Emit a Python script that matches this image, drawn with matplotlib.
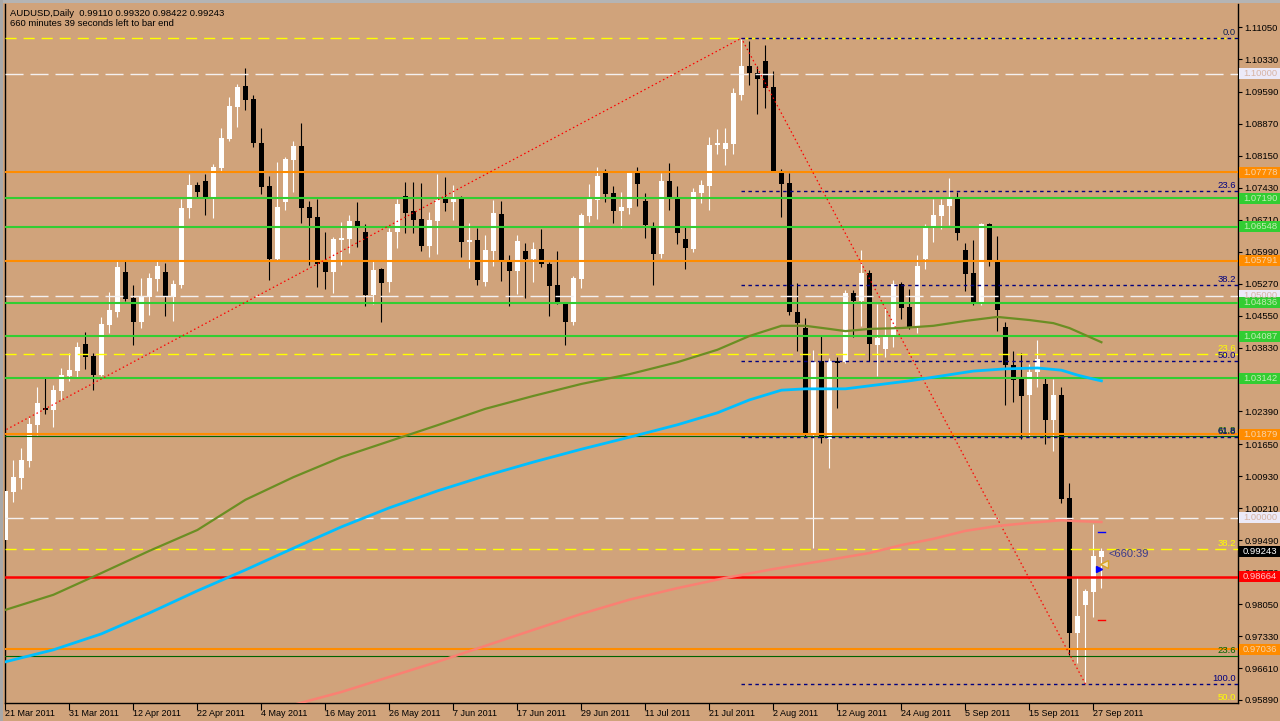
# AUDUSD daily chart, MT4 style, rebuilt with matplotlib
import numpy as np
import pandas as pd
import matplotlib
matplotlib.use("Agg")
import matplotlib.pyplot as plt
import matplotlib.transforms as mtransforms
from matplotlib.patches import Rectangle

plt.rcParams['font.family'] = ['Liberation Sans', 'DejaVu Sans']

BG = '#D0A37B'

# daily bars, 21 Mar 2011 -> 28 Sep 2011 (weekdays)
dates = pd.bdate_range('2011-03-21', '2011-09-28')

opens = [0.9949, 1.0058, 1.0089, 1.0127, 1.0208, 1.0247, 1.0242, 1.0285, 1.0319, 1.0330,
         1.0391, 1.0364, 1.0321, 1.0434, 1.0463, 1.0553, 1.0495, 1.0441, 1.0497, 1.0537,
         1.0553, 1.0497, 1.0524, 1.0697, 1.0749, 1.0758, 1.0722, 1.0787, 1.0853, 1.0925,
         1.0972, 1.0943, 1.0844, 1.0747, 1.0583, 1.0711, 1.0806, 1.0837, 1.0700, 1.0677,
         1.0576, 1.0553, 1.0625, 1.0627, 1.0668, 1.0643, 1.0501, 1.0560, 1.0531, 1.0643,
         1.0724, 1.0691, 1.0673, 1.0612, 1.0668, 1.0718, 1.0711, 1.0720, 1.0621, 1.0625,
         1.0531, 1.0601, 1.0684, 1.0578, 1.0555, 1.0601, 1.0583, 1.0605, 1.0571, 1.0524,
         1.0481, 1.0441, 1.0537, 1.0680, 1.0715, 1.0776, 1.0731, 1.0691, 1.0697, 1.0776,
         1.0713, 1.0655, 1.0594, 1.0758, 1.0722, 1.0627, 1.0605, 1.0731, 1.0747, 1.0839,
         1.0830, 1.0842, 1.0952, 1.1017, 1.1002, 1.1029, 1.0970, 1.0776, 1.0754, 1.0463,
         1.0427, 1.0186, 1.0353, 1.0177, 1.0353, 1.0350, 1.0506, 1.0488, 1.0551, 1.0389,
         1.0380, 1.0407, 1.0526, 1.0474, 1.0429, 1.0583, 1.0652, 1.0680, 1.0702, 1.0720,
         1.0603, 1.0551, 1.0481, 1.0661, 1.0576, 1.0429, 1.0344, 1.0312, 1.0276, 1.0328,
         1.0301, 1.0220, 1.0276, 1.0044, 0.9740, 0.9803, 0.9832, 0.99110]
highs = [1.0069, 1.0130, 1.0157, 1.0227, 1.0294, 1.0314, 1.0299, 1.0337, 1.0371, 1.0395,
         1.0418, 1.0371, 1.0452, 1.0508, 1.0578, 1.0578, 1.0524, 1.0540, 1.0551, 1.0578,
         1.0573, 1.0535, 1.0718, 1.0774, 1.0756, 1.0774, 1.0797, 1.0878, 1.0948, 1.0977,
         1.1013, 1.0952, 1.0878, 1.0770, 1.0801, 1.0812, 1.0848, 1.0889, 1.0713, 1.0718,
         1.0643, 1.0632, 1.0666, 1.0682, 1.0711, 1.0661, 1.0578, 1.0562, 1.0652, 1.0718,
         1.0756, 1.0756, 1.0754, 1.0688, 1.0774, 1.0767, 1.0749, 1.0724, 1.0664, 1.0652,
         1.0637, 1.0715, 1.0713, 1.0592, 1.0637, 1.0619, 1.0621, 1.0650, 1.0576, 1.0601,
         1.0486, 1.0544, 1.0686, 1.0751, 1.0790, 1.0785, 1.0747, 1.0733, 1.0778, 1.0790,
         1.0731, 1.0666, 1.0776, 1.0799, 1.0747, 1.0655, 1.0742, 1.0760, 1.0857, 1.0875,
         1.0878, 1.0968, 1.1078, 1.1074, 1.1017, 1.1065, 1.1006, 1.0785, 1.0776, 1.0528,
         1.0450, 1.0377, 1.0409, 1.0359, 1.0362, 1.0513, 1.0513, 1.0603, 1.0558, 1.0481,
         1.0474, 1.0535, 1.0531, 1.0515, 1.0592, 1.0661, 1.0718, 1.0718, 1.0765, 1.0733,
         1.0619, 1.0625, 1.0663, 1.0663, 1.0634, 1.0441, 1.0375, 1.0371, 1.0346, 1.0400,
         1.0314, 1.0312, 1.0294, 1.0078, 0.9866, 0.9839, 0.9985, 0.99320]
lows = [0.9947, 1.0035, 1.0064, 1.0114, 1.0186, 1.0233, 1.0204, 1.0267, 1.0308, 1.0314,
        1.0335, 1.0287, 1.0319, 1.0416, 1.0452, 1.0488, 1.0389, 1.0427, 1.0456, 1.0510,
        1.0454, 1.0443, 1.0517, 1.0675, 1.0722, 1.0682, 1.0675, 1.0781, 1.0848, 1.0880,
        1.0918, 1.0835, 1.0729, 1.0535, 1.0580, 1.0693, 1.0733, 1.0664, 1.0569, 1.0519,
        1.0515, 1.0506, 1.0569, 1.0596, 1.0610, 1.0477, 1.0481, 1.0441, 1.0508, 1.0607,
        1.0641, 1.0641, 1.0601, 1.0587, 1.0594, 1.0691, 1.0670, 1.0587, 1.0562, 1.0524,
        1.0522, 1.0567, 1.0533, 1.0477, 1.0504, 1.0495, 1.0531, 1.0564, 1.0454, 1.0481,
        1.0389, 1.0434, 1.0517, 1.0666, 1.0673, 1.0711, 1.0664, 1.0652, 1.0684, 1.0702,
        1.0630, 1.0524, 1.0585, 1.0693, 1.0616, 1.0560, 1.0598, 1.0709, 1.0693, 1.0819,
        1.0794, 1.0819, 1.0941, 1.0975, 1.0909, 1.0923, 1.0779, 1.0677, 1.0456, 1.0375,
        1.0181, 0.9931, 1.0168, 1.0112, 1.0247, 1.0348, 1.0407, 1.0432, 1.0353, 1.0319,
        1.0362, 1.0384, 1.0447, 1.0425, 1.0416, 1.0560, 1.0621, 1.0650, 1.0659, 1.0625,
        1.0510, 1.0479, 1.0479, 1.0567, 1.0420, 1.0254, 1.0260, 1.0177, 1.0181, 1.0294,
        1.0166, 1.0150, 1.0033, 0.9690, 0.9672, 0.9627, 0.9776, 0.98422]
closes = [1.0060, 1.0091, 1.0130, 1.0211, 1.0258, 1.0242, 1.0287, 1.0321, 1.0332, 1.0384,
          1.0362, 1.0321, 1.0436, 1.0468, 1.0564, 1.0492, 1.0441, 1.0499, 1.0540, 1.0567,
          1.0499, 1.0526, 1.0697, 1.0749, 1.0733, 1.0722, 1.0790, 1.0855, 1.0927, 1.0970,
          1.0941, 1.0844, 1.0745, 1.0583, 1.0700, 1.0808, 1.0837, 1.0697, 1.0675, 1.0571,
          1.0553, 1.0627, 1.0630, 1.0668, 1.0657, 1.0501, 1.0558, 1.0528, 1.0643, 1.0706,
          1.0686, 1.0670, 1.0612, 1.0670, 1.0715, 1.0709, 1.0718, 1.0621, 1.0625, 1.0535,
          1.0603, 1.0686, 1.0576, 1.0555, 1.0623, 1.0583, 1.0605, 1.0571, 1.0522, 1.0486,
          1.0441, 1.0540, 1.0682, 1.0718, 1.0770, 1.0729, 1.0691, 1.0700, 1.0776, 1.0751,
          1.0659, 1.0594, 1.0758, 1.0722, 1.0641, 1.0607, 1.0733, 1.0749, 1.0839, 1.0844,
          1.0844, 1.0957, 1.1017, 1.1002, 1.0988, 1.0968, 1.0781, 1.0751, 1.0463, 1.0438,
          1.0186, 1.0350, 1.0179, 1.0353, 1.0348, 1.0506, 1.0488, 1.0551, 1.0391, 1.0405,
          1.0409, 1.0526, 1.0472, 1.0429, 1.0567, 1.0657, 1.0682, 1.0704, 1.0718, 1.0641,
          1.0549, 1.0481, 1.0661, 1.0576, 1.0468, 1.0344, 1.0310, 1.0274, 1.0328, 1.0357,
          1.0220, 1.0276, 1.0042, 0.9740, 0.9778, 0.9835, 0.9913, 0.99243]

# moving averages, read at a few bars
olive_bars = [0, 6, 12, 18, 24, 30, 36, 42, 48, 54, 60, 66, 72, 78, 84, 89, 93, 97, 100,
              103, 105, 108, 112, 116, 120, 124, 128, 131, 133, 135, 137]
olive_vals = [0.9792, 0.9826, 0.9875, 0.9925, 0.9972, 1.0040, 1.0091, 1.0136, 1.0172, 1.0208,
              1.0245, 1.0274, 1.0301, 1.0323, 1.0350, 1.0378, 1.0409, 1.0432, 1.0432, 1.0425,
              1.0420, 1.0425, 1.0427, 1.0432, 1.0443, 1.0452, 1.0445, 1.0438, 1.0427, 1.0411,
              1.0395]
blue_bars = [0, 6, 12, 18, 24, 30, 36, 42, 48, 54, 60, 66, 72, 78, 84, 89, 93, 97, 100,
             105, 109, 113, 117, 121, 125, 129, 132, 134, 136, 137]
blue_vals = [0.9675, 0.9702, 0.9738, 0.9785, 0.9835, 0.9882, 0.9931, 0.9979, 1.0022, 1.0060,
             1.0094, 1.0125, 1.0154, 1.0181, 1.0209, 1.0236, 1.0265, 1.0287, 1.0290, 1.0290,
             1.0299, 1.0308, 1.0319, 1.0330, 1.0335, 1.0337, 1.0332, 1.0321, 1.0312, 1.0308]
salmon_bars = [36, 42, 48, 54, 60, 66, 72, 78, 84, 90, 96, 102, 108, 112, 116, 120, 124,
               128, 132, 134, 137]
salmon_vals = [0.9578, 0.9607, 0.9641, 0.9675, 0.9711, 0.9747, 0.9783, 0.9815, 0.9841, 0.9864,
               0.9884, 0.9902, 0.9920, 0.9938, 0.9952, 0.9970, 0.9981, 0.9988, 0.9994, 0.9992,
               0.9990]

# horizontal lines
orange_levels = [1.07778, 1.05791, 1.01879, 0.97036]
green_levels = [1.07190, 1.06548, 1.04836, 1.04087, 1.03142]
round_levels = [1.10000, 1.05000, 1.00000]
red_level = 0.98664
darkgreen_levels = [0.9688, 1.0184]
darkgreen_names = ['23.6', '61.8']

# fibonacci objects: (bar, price) of the 100% end and of the 0% end
fib_ratios = [0.0, 23.6, 38.2, 50.0, 61.8, 100.0]
navy_fib = (135, 0.9625, 92, 1.1080)
yellow_fib = (-222, 0.8067, 92, 1.1080)

# right price scale
tick_vals = [1.11050, 1.10330, 1.09590, 1.08870, 1.08150, 1.07430, 1.06710, 1.05990,
             1.05270, 1.04550, 1.03830, 1.03110, 1.02390, 1.01650, 1.00930, 1.00210,
             0.99490, 0.98770, 0.98050, 0.97330, 0.96610, 0.95890]

W, H = 1280, 721
YLIM = (0.95822, 1.11570)
fig = plt.figure(figsize=(W / 100, H / 100), dpi=100, facecolor=BG)
ax = fig.add_axes([5 / W, (H - 703) / H, 1233 / W, 699 / H])
ax.set_facecolor(BG)
ax.set_xlim(-0.05, -0.05 + 1233 / 8)
ax.set_ylim(*YLIM)

# candles
x = np.arange(len(dates))
o, hi, lo, c = map(np.array, (opens, highs, lows, closes))
up = c >= o
cols = np.where(up, 'white', 'black')
ax.vlines(x, lo, hi, colors=cols, lw=0.8, zorder=2)
ax.bar(x, np.maximum(np.abs(c - o), 0.00018), bottom=np.minimum(o, c), width=0.62,
       color=cols, linewidth=0, zorder=3)

# level lines
for p in orange_levels:
    ax.axhline(p, color='#FF8C00', lw=1.5, zorder=4)
for p in green_levels:
    ax.axhline(p, color='#32CD32', lw=1.5, zorder=4)
for p in round_levels:
    ax.axhline(p, color='#F4F0F0', lw=1.0, dashes=(13, 5), zorder=4)
ax.axhline(red_level, color='#FF0000', lw=1.8, zorder=4)
for p in darkgreen_levels:
    ax.axhline(p, color='#006400', lw=0.8, zorder=4)

xl, xr = ax.get_xlim()

# yellow fib (full width) and navy fib (from its anchor to the right)
def draw_fib(fib, color, dashes, start):
    b100, p100, b0, p0 = fib
    ax.plot([b100, b0], [p100, p0], color='red', lw=0.9, dashes=(1.2, 2.2), zorder=5)
    for r in fib_ratios:
        lvl = p0 - r / 100 * (p0 - p100)
        ax.plot([start, xr], [lvl, lvl], color=color, lw=1.0, dashes=dashes, zorder=5)
        # MT4 keeps a level's label at the bottom edge when the line sits just below it
        if lvl > YLIM[0] - 0.002:
            ax.text(xr - 0.25, max(lvl, YLIM[0]) + 0.0002, f'{r:.1f}', color=color,
                    fontsize=6.8, ha='right', va='bottom', zorder=7)

draw_fib(yellow_fib, '#FFFF00', (8, 5), xl)
draw_fib(navy_fib, '#000080', (2.5, 2.5), navy_fib[2])
for p, name in zip(darkgreen_levels, darkgreen_names):
    ax.text(xr - 0.25, p + 0.0002, name, color='#006400', fontsize=6.8,
            ha='right', va='bottom', zorder=6)
ax.set_xlim(xl, xr)
ax.set_ylim(*YLIM)

# moving averages
ax.plot(olive_bars, olive_vals, color='#6B8E23', lw=1.6, zorder=6)
ax.plot(blue_bars, blue_vals, color='#00BFFF', lw=2.0, zorder=6)
ax.plot(salmon_bars, salmon_vals, color='#FA8072', lw=1.8, zorder=6)

# markers at the live bar
last = len(dates) - 1
ax.plot([last - 0.4, last + 0.5], [0.99674, 0.99674], color='#0000FF', lw=1.0, zorder=7)
ax.plot([last - 0.4, last + 0.5], [0.97692, 0.97692], color='#FF0000', lw=1.0, zorder=7)
ax.plot(last - 0.25, 0.9883, marker='>', color='#0000FF', ms=5, zorder=8)
ax.plot(last + 0.35, 0.9896, marker='<', mfc='#F2E2C0', mec='#DAA520', ms=6, mew=1, zorder=8)
ax.text(last + 0.85, 0.9918, '<660:39', color='#3A3A8A', fontsize=8, ha='left',
        va='center', zorder=8)

# axes look
ax.spines['top'].set_visible(False)
for side in ['left', 'right', 'bottom']:
    ax.spines[side].set_color('black')
    ax.spines[side].set_linewidth(1.0)

ax.yaxis.tick_right()
ax.set_yticks(tick_vals, [f'{v:.5f}' for v in tick_vals])
ax.tick_params(axis='y', direction='out', length=3, width=0.8, pad=1.5, labelsize=6.8,
               colors='black')

xt = list(range(0, len(dates), 8))
ax.set_xticks(xt, [f"{dates[i].day} {dates[i]:%b %Y}" for i in xt])
ax.tick_params(axis='x', direction='out', length=5, width=0.8, pad=-1, labelsize=6.5,
               colors='black')
for t in ax.get_xticklabels():
    t.set_ha('left')

# price labels on the scale for each line
blend = mtransforms.blended_transform_factory(fig.transFigure, ax.transData)
box_h = 11 * 0.0002253

def price_box(price, face, text_col):
    ax.add_patch(Rectangle((1239 / W, price - box_h / 2), 41 / W, box_h, transform=blend,
                           facecolor=face, edgecolor='none', clip_on=False, zorder=20))
    ax.text(1243 / W, price, f'{price:.5f}', transform=blend, ha='left', va='center',
            fontsize=6.8, color=text_col, clip_on=False, zorder=21)

for p in round_levels:
    price_box(p, '#ECEAF8', '#D8B4A4')
for p in orange_levels:
    price_box(p, '#FF8C00', '#F8D2A8')
for p in green_levels:
    price_box(p, '#32CD32', '#C4ECB4')
price_box(red_level, '#FF0000', '#FFC8C8')
price_box(closes[-1], '#000000', '#FFFFFF')

# header text
fig.text(10 / W, 1 - 13 / H,
         f"AUDUSD,Daily  {opens[-1]:.5f} {highs[-1]:.5f} {lows[-1]:.5f} {closes[-1]:.5f}",
         fontsize=6.8, ha='left', va='center', color='black')
fig.text(10 / W, 1 - 23 / H, '660 minutes 39 seconds left to bar end',
         fontsize=6.8, ha='left', va='center', color='black')

# window frame
fig.patches.append(Rectangle((0, 1 - 3 / H), 1, 3 / H, transform=fig.transFigure,
                             facecolor='#B4B4B4', edgecolor='none'))
fig.patches.append(Rectangle((0, 0), 3 / W, 1, transform=fig.transFigure,
                             facecolor='#A8A8A8', edgecolor='none'))

fig.savefig('out.png', dpi=100, facecolor=BG)
